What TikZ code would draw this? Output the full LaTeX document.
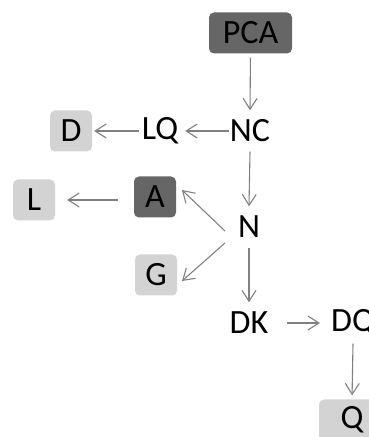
\documentclass[tikz,border=0pt]{standalone}
\usepackage{fontspec}
\setmainfont{Carlito}
\usetikzlibrary{arrows.meta}
\definecolor{darkbox}{HTML}{666666}
\definecolor{lightbox}{HTML}{D3D3D3}
\definecolor{edgegray}{HTML}{808080}
\tikzset{
  x=1pt, y=1pt,
  lbl/.style={inner sep=0pt, minimum width=42pt, minimum height=41pt,
    font=\fontsize{34}{34}\selectfont, text=black},
  darkfill/.style={lbl, fill=darkbox, rounded corners=5pt},
  lightfill/.style={lbl, fill=lightbox, rounded corners=5pt},
  edge/.style={draw=edgegray, line width=1.1pt,
    -{Straight Barb[length=11pt, width=14pt, line width=1.1pt]}},
}
\begin{document}
\begin{tikzpicture}
\useasboundingbox (0,0) rectangle (369,437);
% nodes (picture y = 437 - row)
\node[darkfill, minimum width=83pt] (PCA) at (250.5,404) {PCA};
\node[lbl] (NC) at (250,306) {NC};
\node[lbl] (LQ) at (160,306) {LQ};
\node[lightfill] (D) at (71,306) {D};
\node[darkfill] (A) at (155,240) {A};
\node[lightfill] (L) at (34,237) {L};
\node[lbl] (N) at (249,210) {N};
\node[lightfill] (G) at (156,162) {G};
\node[lbl] (DK) at (249,114) {DK};
\node[lbl] (DQ) at (353,114) {DQ};
\node[lightfill, minimum width=66pt] (Q) at (352,17) {Q};
% connectors
\draw[edge, shorten <=4pt] (PCA.south) -- (NC.north);
\draw[edge, shorten >=4pt] (NC.west) -- (LQ.east);
\draw[edge, shorten >=2pt] (LQ.west) -- (D.east);
\draw[edge] (NC.south) -- (N.north);
\draw[edge] ([xshift=-24pt,yshift=-4pt]N.center) -- ([xshift=27pt,yshift=7pt]A.center);
\draw[edge] ([xshift=-24pt,yshift=-16pt]N.center) -- ([xshift=26pt,yshift=-6pt]G.center);
\draw[edge, shorten <=16pt, shorten >=12pt] ([yshift=-3pt]A.west) -- (L.east);
\draw[edge] (N.south) -- (DK.north);
\draw[edge, shorten <=17pt, shorten >=11pt] (DK.east) -- (DQ.west);
\draw[edge, shorten >=4pt] (DQ.south) -- (Q.north);
\end{tikzpicture}
\end{document}
